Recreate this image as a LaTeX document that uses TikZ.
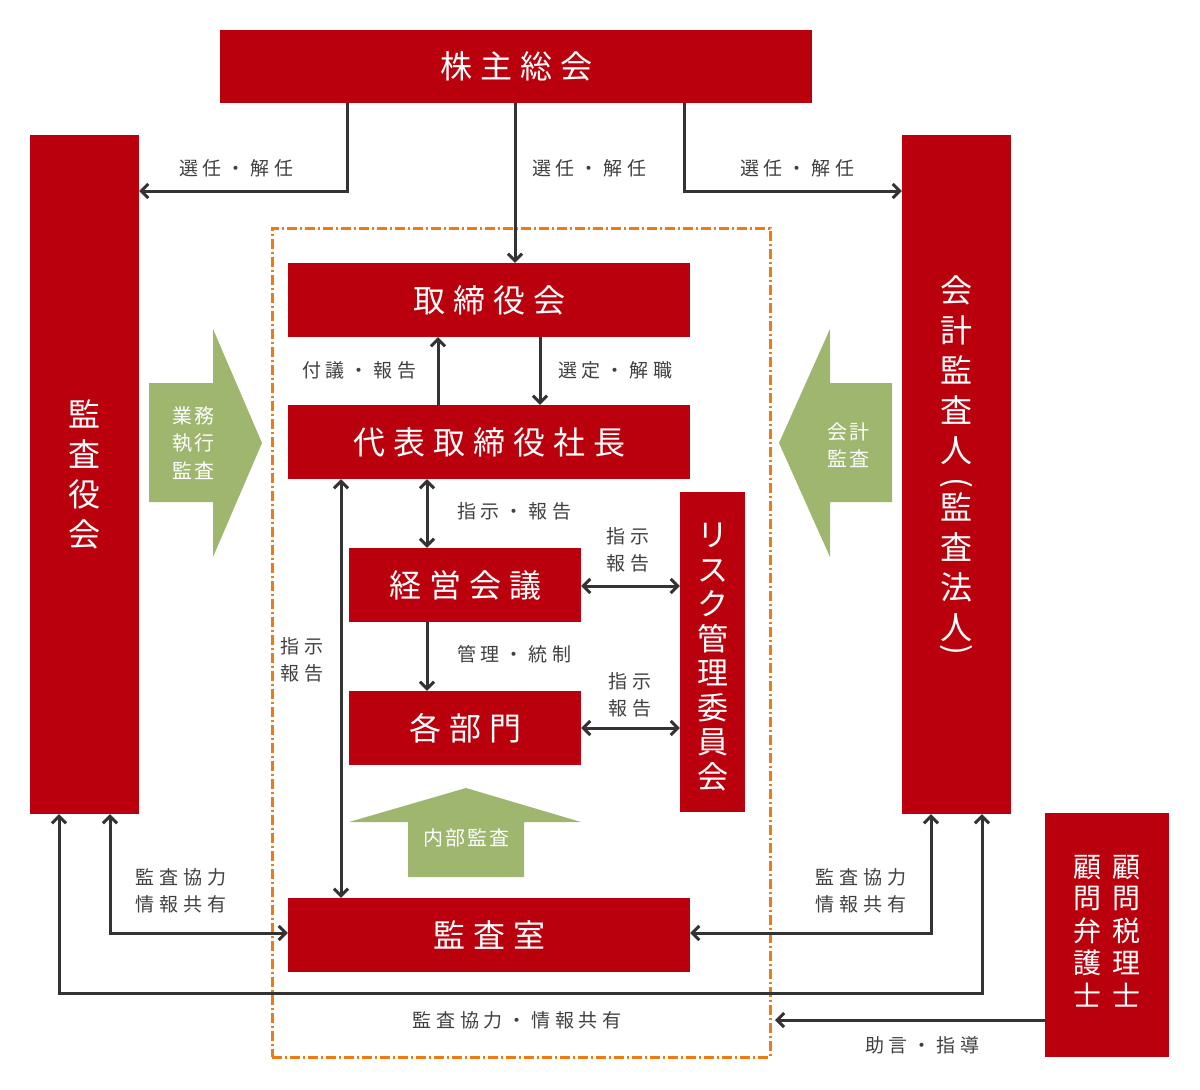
\documentclass[tikz,border=0pt]{standalone}
\usepackage{fontspec}
\usetikzlibrary{arrows.meta}
\newfontfamily\jp{Noto Sans CJK JP}
\newfontfamily\jpls[LetterSpace=25]{Noto Sans CJK JP}
\newfontfamily\jpgs[LetterSpace=10]{Noto Sans CJK JP}
\definecolor{boxred}{RGB}{186,0,12}
\definecolor{arrgreen}{RGB}{158,182,110}
\definecolor{dashorange}{RGB}{240,122,18}
\definecolor{linegray}{RGB}{51,51,51}
\definecolor{txtgray}{RGB}{64,64,64}
\tikzset{
  redbox/.style={fill=boxred, draw=none, text=white, inner sep=0pt, font=\jpls\fontsize{32}{40}\selectfont},
  vbox/.style={fill=boxred, draw=none, text=white, inner sep=0pt, align=center, font=\jp\fontsize{32}{40}\selectfont},
  vtext/.style={text=white, inner sep=0pt, align=center, font=\jp\fontsize{32}{40}\selectfont},
  lbl/.style={text=txtgray, inner sep=0pt, align=center, font=\jpls\fontsize{19}{27}\selectfont},
  conn/.style={draw=linegray, line width=3pt, -{Straight Barb[length=7pt,width=14pt]}},
  dconn/.style={draw=linegray, line width=3pt, {Straight Barb[length=7pt,width=14pt]}-{Straight Barb[length=7pt,width=14pt]}},
  gtxt/.style={text=white, inner sep=0pt, align=center, font=\jpgs\fontsize{20}{27.5}\selectfont},
  greenarrow/.style={fill=arrgreen, draw=none},
  dashbox/.style={draw=dashorange, line width=3pt, dash pattern=on 10pt off 3pt on 2pt off 3pt, inner sep=0pt},
}
\begin{document}
\begin{tikzpicture}[x=1pt, y=-1pt]
\useasboundingbox (0,0) rectangle (1200,1090);

% dashed governance frame
\node[dashbox, minimum width=498pt, minimum height=829pt] (govbox) at (521,642.5) {};

% boxes
\node[redbox, minimum width=592pt, minimum height=73pt] (kabu) at (516,66.5) {株主総会};
\node[vbox, minimum width=109pt, minimum height=679pt] (kansayaku) at (84.5,474.5) {監\\査\\役\\会};
\node[vbox, minimum width=109pt, minimum height=679pt] (kaikei) at (956.5,474.5) {};
\node[vtext] (kt1) at (956.5,370) {会\\計\\監\\査\\人};
\node[vtext] (kp1) at (956.5,485) {\rotatebox[origin=c]{-90}{(}};
\node[vtext] (kt2) at (956.5,567) {監\\査\\法\\人};
\node[vtext] (kp2) at (956.5,652) {\rotatebox[origin=c]{-90}{)}};
\node[redbox, minimum width=402pt, minimum height=74pt] (tori) at (489,300) {取締役会};
\node[redbox, minimum width=402pt, minimum height=74pt] (dai) at (489,442) {代表取締役社長};
\node[redbox, minimum width=232pt, minimum height=74pt] (keiei) at (465,585) {経営会議};
\node[redbox, minimum width=232pt, minimum height=74pt] (kaku) at (465,728) {各部門};
\node[redbox, minimum width=65pt, minimum height=320pt] (risk) at (712.5,652) {};
\node[vtext, font=\jp\fontsize{31}{34.5}\selectfont] (riskt) at (712.5,657) {リ\\ス\\ク\\管\\理\\委\\員\\会};
\node[redbox, minimum width=402pt, minimum height=74pt] (kansashitsu) at (489,935) {監査室};
\node[vbox, minimum width=124pt, minimum height=244pt, font=\jp\fontsize{28}{30}\selectfont] (komon) at (1107,935)
  {\begin{tabular}{@{}c@{\hspace{11pt}}c@{}}顧&顧\\問&問\\弁&税\\護&理\\士&士\end{tabular}};

% green arrows
\fill[greenarrow] (149,383) -- (213,383) -- (213,329) -- (262,443) -- (213,557) -- (213,502) -- (149,502) -- cycle;
\node[gtxt] (gyomu) at (193,443) {業務\\執行\\監査};
\fill[greenarrow] (892,383) -- (830,383) -- (830,329) -- (779,443) -- (830,557) -- (830,502) -- (892,502) -- cycle;
\node[gtxt] (kaikeikansa) at (848,445) {会計\\監査};
\fill[greenarrow] (408,877) -- (408,822) -- (349,822) -- (466,788) -- (581,822) -- (524,822) -- (524,877) -- cycle;
\node[gtxt] (naibu) at (466,838) {内部監査};

% connectors
\coordinate (bl) at (59,993);
\coordinate (br) at (982,993);
\coordinate (adv) at (775,1020);
\draw[conn] (kabu.south -| 347,0) |- (kansayaku.east |- 0,191);
\draw[conn] (kabu.south -| 515,0) -- (tori.north -| 515,0);
\draw[conn] (kabu.south -| 684,0) |- (kaikei.west |- 0,191);
\draw[conn] (dai.north -| 438,0) -- (tori.south -| 438,0);
\draw[conn] (tori.south -| 540,0) -- (dai.north -| 540,0);
\draw[dconn] (dai.south -| 427,0) -- (keiei.north -| 427,0);
\draw[conn] (keiei.south -| 427,0) -- (kaku.north -| 427,0);
\draw[dconn] (keiei.east |- 0,586) -- (risk.west |- 0,586);
\draw[dconn] (kaku.east) -- (risk.west |- kaku.east);
\draw[dconn] (dai.south -| 341,0) -- (kansashitsu.north -| 341,0);
\draw[dconn] (kansayaku.south -| 110,0) |- (kansashitsu.west |- 0,933);
\draw[dconn] (kaikei.south -| 931,0) |- (kansashitsu.east |- 0,933);
\draw[dconn] (kansayaku.south -| bl) -- (bl) -- (br) -- (kaikei.south -| br);
\draw[conn] (komon.west |- adv) -- (adv);

% labels
\node[lbl] (t1) at (236,168) {選任・解任};
\node[lbl] (t2) at (589,168) {選任・解任};
\node[lbl] (t3) at (797,168) {選任・解任};
\node[lbl] (t4) at (359,370) {付議・報告};
\node[lbl] (t5) at (615,370) {選定・解職};
\node[lbl] (t6) at (514,511) {指示・報告};
\node[lbl] (t7) at (628,550) {指示\\報告};
\node[lbl] (t8) at (514,654) {管理・統制};
\node[lbl] (t9) at (630,695) {指示\\報告};
\node[lbl] (t10) at (302,660) {指示\\報告};
\node[lbl] (t11) at (181,891) {監査協力\\情報共有};
\node[lbl] (t12) at (861,891) {監査協力\\情報共有};
\node[lbl] (t13) at (517,1020) {監査協力・情報共有};
\node[lbl] (t14) at (922,1045) {助言・指導};
\end{tikzpicture}
\end{document}
